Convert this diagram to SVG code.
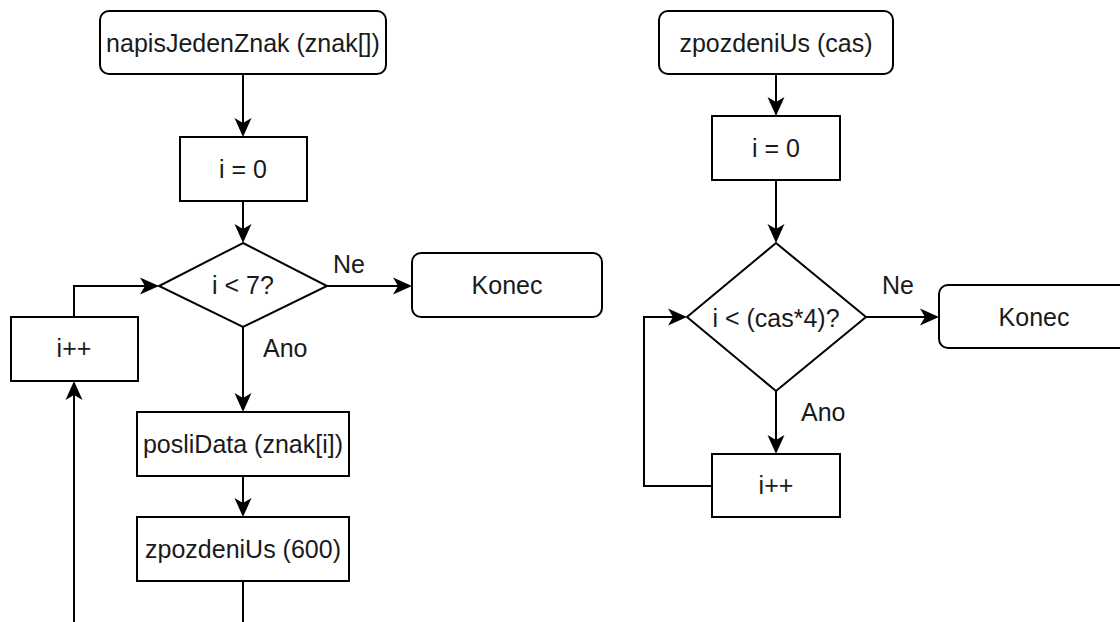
<svg xmlns="http://www.w3.org/2000/svg" width="1120" height="622" viewBox="0 0 1120 622">
  <style>
    .shape { fill: #ffffff; stroke: #000000; stroke-width: 2; }
    .line { fill: none; stroke: #000000; stroke-width: 2; }
    text { font-family: "Liberation Sans", Arial, sans-serif; font-size: 25px; fill: #1a1a1a; }
    .c { text-anchor: middle; }
  </style>
  <defs>
    <marker id="arrow" markerUnits="userSpaceOnUse" markerWidth="24" markerHeight="24" viewBox="-16 -12 24 24" refX="0" refY="0" orient="auto" overflow="visible">
      <path d="M6,0 L-13,-8.5 L-8,0 L-13,8.5 Z" fill="#000000" stroke="none"/>
    </marker>
  </defs>
  <rect width="1120" height="622" fill="#ffffff"/>

  <!-- connectors -->
  <g id="connectors">
    <!-- left flow -->
    <path class="line" marker-end="url(#arrow)" d="M243,74 L243,131"/>
    <path class="line" marker-end="url(#arrow)" d="M243,201 L243,237"/>
    <path class="line" marker-end="url(#arrow)" d="M327,286 L406,286"/>
    <path class="line" marker-end="url(#arrow)" d="M243,327 L243,406"/>
    <path class="line" marker-end="url(#arrow)" d="M243,476 L243,511"/>
    <path class="line" d="M243,581 L243,630"/>
    <path class="line" marker-end="url(#arrow)" d="M74,630 L74,387"/>
    <path class="line" marker-end="url(#arrow)" d="M74,317 L74,286 L153,286"/>
    <!-- right flow -->
    <path class="line" marker-end="url(#arrow)" d="M776,74 L776,110"/>
    <path class="line" marker-end="url(#arrow)" d="M776,180 L776,237"/>
    <path class="line" marker-end="url(#arrow)" d="M866,317 L933,317"/>
    <path class="line" marker-end="url(#arrow)" d="M776,391 L776,448"/>
    <path class="line" marker-end="url(#arrow)" d="M712,486 L644,486 L644,317 L681,317"/>
    <text x="333" y="273">Ne</text>
    <text x="263" y="357">Ano</text>
    <text x="882" y="294">Ne</text>
    <text x="801" y="421">Ano</text>
  </g>

  <!-- left flowchart: napisJedenZnak -->
  <g id="start-napis">
    <rect class="shape" x="100" y="11" width="286" height="63" rx="9"/>
    <text class="c" x="243" y="52">napisJedenZnak (znak[])</text>
  </g>
  <g id="init-left">
    <rect class="shape" x="180" y="137" width="127" height="64"/>
    <text class="c" x="243" y="178">i = 0</text>
  </g>
  <g id="cond-left">
    <polygon class="shape" points="243,243 327,286 243,327 159,286"/>
    <text class="c" x="243" y="294">i &lt; 7?</text>
  </g>
  <g id="end-left">
    <rect class="shape" x="412" y="253" width="190" height="64" rx="9"/>
    <text class="c" x="507" y="294">Konec</text>
  </g>
  <g id="inc-left">
    <rect class="shape" x="11" y="317" width="127" height="64"/>
    <text class="c" x="74" y="357">i++</text>
  </g>
  <g id="send-data">
    <rect class="shape" x="137" y="412" width="212" height="64"/>
    <text class="c" x="243" y="453">posliData (znak[i])</text>
  </g>
  <g id="delay-600">
    <rect class="shape" x="137" y="517" width="212" height="64"/>
    <text class="c" x="243" y="558">zpozdeniUs (600)</text>
  </g>

  <!-- right flowchart: zpozdeniUs -->
  <g id="start-delay">
    <rect class="shape" x="659" y="11" width="234" height="63" rx="9"/>
    <text class="c" x="776" y="52">zpozdeniUs (cas)</text>
  </g>
  <g id="init-right">
    <rect class="shape" x="712" y="116" width="128" height="64"/>
    <text class="c" x="776" y="157">i = 0</text>
  </g>
  <g id="cond-right">
    <polygon class="shape" points="776,243 866,317 776,391 687,317"/>
    <text class="c" x="776" y="327">i &lt; (cas*4)?</text>
  </g>
  <g id="end-right">
    <rect class="shape" x="939" y="285" width="190" height="63" rx="9"/>
    <text class="c" x="1034" y="326">Konec</text>
  </g>
  <g id="inc-right">
    <rect class="shape" x="712" y="454" width="128" height="63"/>
    <text class="c" x="776" y="494">i++</text>
  </g>
</svg>
